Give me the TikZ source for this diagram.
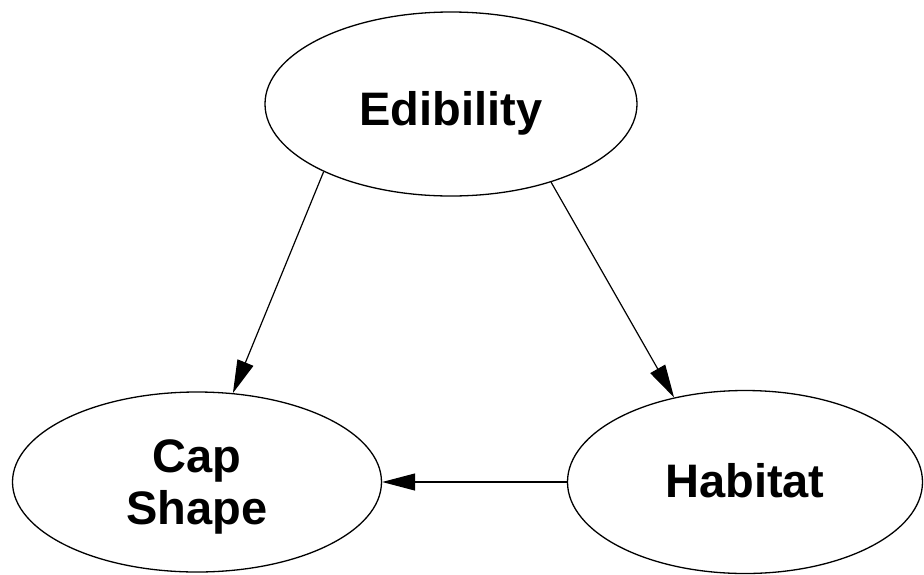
\documentclass[tikz,border=0pt]{standalone}
\usepackage{fontspec}
\setmainfont{Liberation Sans}
\usetikzlibrary{shapes.geometric,arrows.meta}
\begin{document}
\begin{tikzpicture}[x=1pt,y=-1pt,
  varnode/.style={ellipse,draw=black,line width=1.3pt,inner sep=0pt,
    align=center,font=\fontsize{47}{52}\selectfont\bfseries},
  edge/.style={line width=1.2pt,-{Triangle[length=33pt,width=17pt]}}]
  \useasboundingbox (0,0) rectangle (924,574);
  \node[varnode,minimum width=372pt,minimum height=184pt,
    text height=42pt,text depth=0pt] (edib) at (451,104) {Edibility};
  \node[varnode,minimum width=369pt,minimum height=180pt,
    text depth=0pt] (cap) at (197,482) {Cap\\Shape};
  \node[varnode,minimum width=355pt,minimum height=183pt,
    text height=30pt,text depth=0pt] (hab) at (745,482) {Habitat};
  \draw[edge] (edib.208) -- (cap.68);
  \draw[edge] (edib.322) -- (hab.130);
  \draw[edge] (hab.west) -- (cap.east);
\end{tikzpicture}
\end{document}
